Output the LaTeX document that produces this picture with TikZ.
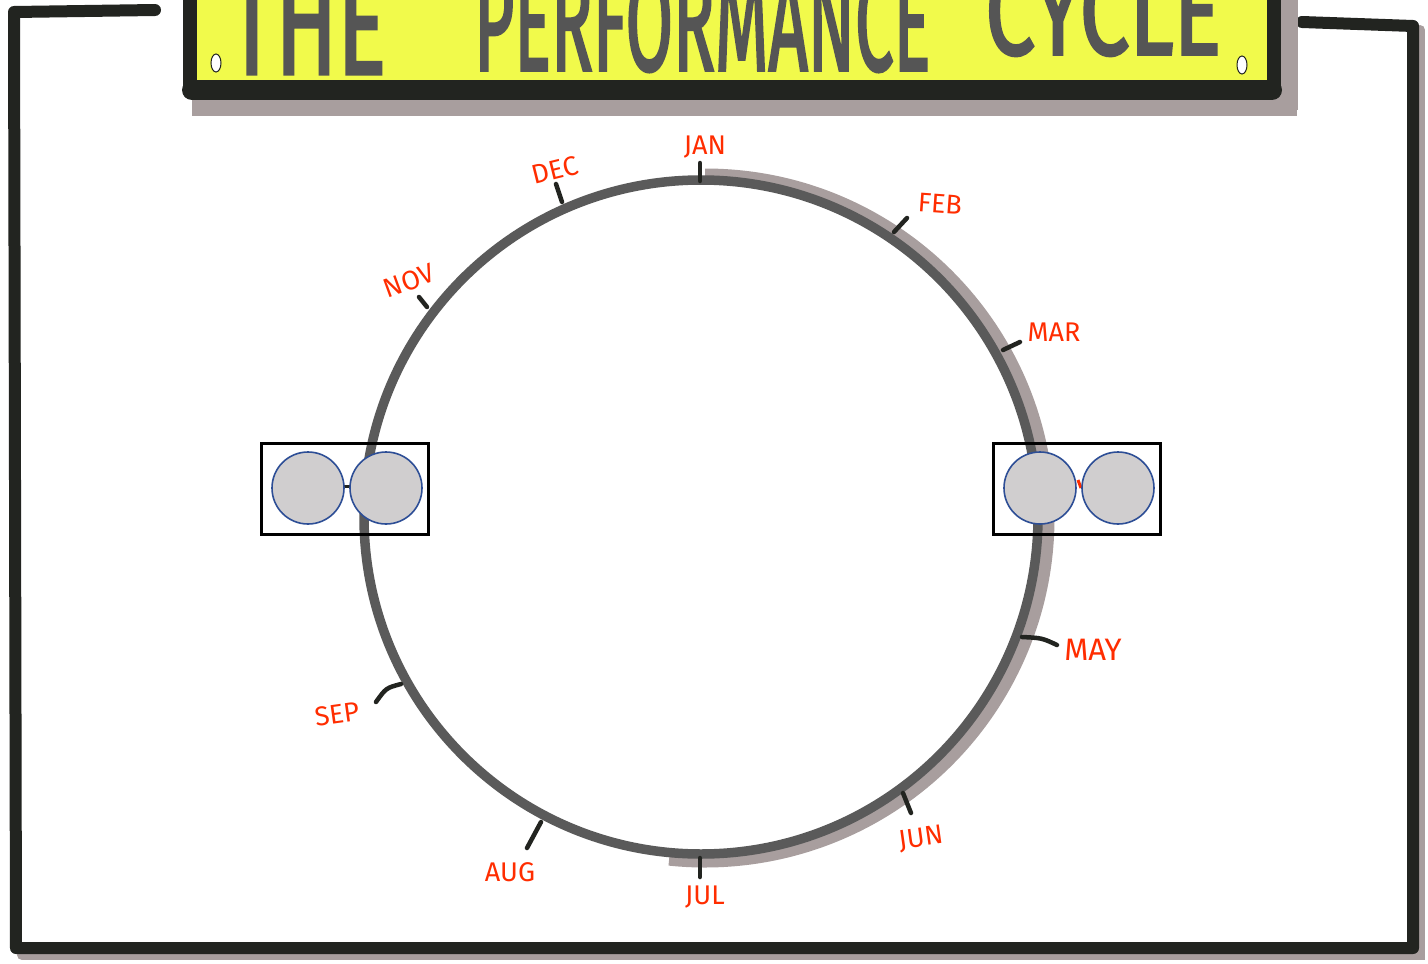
\documentclass[tikz,border=0pt]{standalone}
\usepackage{fontspec}
\setmainfont{Fira Sans}
\newfontfamily\titlefont[FakeBold=2.5]{Fira Sans}
\usepackage{graphicx}
\definecolor{ink}{RGB}{34,36,32}
\definecolor{ring}{RGB}{90,90,90}
\definecolor{shadowgray}{RGB}{168,158,158}
\definecolor{banner}{RGB}{241,250,75}
\definecolor{titleink}{RGB}{85,85,85}
\definecolor{month}{RGB}{255,45,0}
\definecolor{disc}{RGB}{208,206,207}
\definecolor{discedge}{RGB}{45,78,150}
\tikzset{
  frameline/.style={draw=ink,line width=12pt,line cap=round,line join=round},
  frameshadow/.style={draw=shadowgray,line width=10pt,line cap=round},
  tick/.style={draw=ink,line width=4.5pt,line cap=round},
  monthlbl/.style={text=month,font=\fontsize{27}{27}\selectfont,inner sep=0pt},
  discnode/.style={circle,fill=disc,draw=discedge,line width=1.6pt,minimum size=72pt,inner sep=0pt},
  holderbox/.style={draw=black,line width=3pt},
  titlebox/.style={inner sep=0pt,text=titleink,anchor=south west,font=\titlefont}
}
\begin{document}
\begin{tikzpicture}[x=1pt,y=-1pt]
\useasboundingbox (0,0) rectangle (1428,964);
\fill[white] (0,0) rectangle (1428,964);
% frame shadow
\draw[frameshadow] (22,955) -- (1420,955) -- (1420,30);
% frame
\draw[frameline] (155,10) -- (14,12) -- (16,948) -- (1413,948) -- (1413,26) -- (1302,22);
% banner shadow
\fill[shadowgray] (192,92) rectangle (1297,116);
\fill[shadowgray] (1280,0) rectangle (1298,110);
% banner
\fill[banner] (190,-5) rectangle (1280,86);
\draw[ink,line width=14pt,line cap=round] (190,-5) -- (190,92);
\draw[ink,line width=14pt,line cap=round] (1274,-5) -- (1274,92);
\draw[ink,line width=20pt,line cap=round] (192,90) -- (1272,90);
\fill[white,draw=ink,line width=1pt] (216,63) ellipse (5pt and 9pt);
\fill[white,draw=ink,line width=1pt] (1242,65) ellipse (5pt and 9pt);
% title
\node[titlebox] (tThe) at (228,74) {\resizebox{158pt}{100pt}{THE}};
\node[titlebox] (tPerf) at (474,72) {\resizebox{456pt}{98pt}{PERFORMANCE}};
\node[titlebox] (tCyc) at (985,56) {\resizebox{236pt}{88pt}{CYCLE}};
% ring
\coordinate (c) at (701,517);
\coordinate (sh) at (705,175);
\draw[shadowgray,line width=13pt] (sh) arc[start angle=-90,end angle=96,radius=343];
\draw[ring,line width=9.5pt] (c) circle[radius=337];
% ticks
\coordinate (janA) at (700,163); \coordinate (janB) at (700,181);
\coordinate (decA) at (556,184); \coordinate (decB) at (562,202);
\coordinate (novA) at (419,297); \coordinate (novB) at (427,307);
\coordinate (febA) at (894,232); \coordinate (febB) at (907,218);
\coordinate (marA) at (1003,350); \coordinate (marB) at (1020,342);
\coordinate (mayA) at (1022,637); \coordinate (mayB) at (1057,645);
\coordinate (junA) at (903,793); \coordinate (junB) at (911,813);
\coordinate (julA) at (700,858); \coordinate (julB) at (700,877);
\coordinate (augA) at (541,822); \coordinate (augB) at (527,848);
\coordinate (sepA) at (401,684); \coordinate (sepB) at (376,702);
\draw[tick] (janA) -- (janB);
\draw[tick] (decA) -- (decB);
\draw[tick] (novA) -- (novB);
\draw[tick] (febA) -- (febB);
\draw[tick] (marA) -- (marB);
\draw[tick] (mayA) .. controls (1042,638) .. (mayB);
\draw[tick] (junA) -- (junB);
\draw[tick] (julA) -- (julB);
\draw[tick] (augA) -- (augB);
\draw[tick] (sepA) .. controls (386,688) .. (sepB);
% month labels
\node[monthlbl] (jan) at (705,147) {JAN};
\node[monthlbl,rotate=14] (dec) at (555,170) {DEC};
\node[monthlbl,rotate=20] (nov) at (409,281) {NOV};
\node[monthlbl,rotate=-4] (feb) at (940,204) {FEB};
\node[monthlbl] (mar) at (1054,332) {MAR};
\node[monthlbl,font=\fontsize{31}{31}\selectfont] (may) at (1093,650) {MAY};
\node[monthlbl,rotate=8] (jun) at (921,839) {JUN};
\node[monthlbl] (jul) at (705,897) {JUL};
\node[monthlbl] (aug) at (510,872) {AUG};
\node[monthlbl,rotate=8] (sep) at (337,714) {SEP};
% holders
\draw[holderbox] (261,443) rectangle (428,534);
\draw[ink,line width=3pt] (344,486) -- (350,486);
\node[discnode] (l1) at (308,488) {};
\node[discnode] (l2) at (386,488) {};
\draw[holderbox] (993,443) rectangle (1160,534);
\draw[month,line width=3pt] (1078,480) -- (1081,488);
\node[discnode] (r1) at (1040,488) {};
\node[discnode] (r2) at (1118,488) {};
\end{tikzpicture}
\end{document}
